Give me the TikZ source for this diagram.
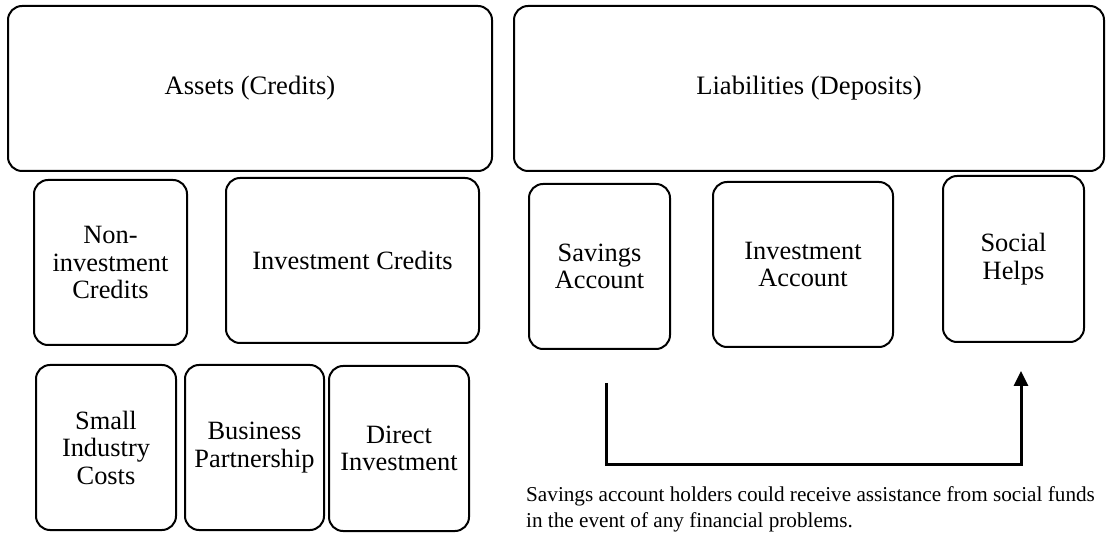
\documentclass[tikz,border=0pt]{standalone}
\usepackage{fontspec}
\setmainfont{Liberation Serif}
\usetikzlibrary{arrows.meta}

\begin{document}
\begin{tikzpicture}[x=1pt,y=-1pt,
    box/.style={draw,line width=2pt,rounded corners=14pt,align=center,
                inner sep=2pt,minimum height=165pt},
    bigtxt/.style={font=\fontsize{26.6}{30}\selectfont},
    boxtxt/.style={font=\fontsize{26.4}{27.5}\selectfont}]
\useasboundingbox (0,0) rectangle (1106,534);

% top row
\node[box,bigtxt,minimum width=484pt] (assets) at (250,88.5) {Assets (Credits)};
\node[box,bigtxt,minimum width=590pt] (liab) at (809,88.5) {Liabilities (Deposits)};

% credits
\node[box,boxtxt,minimum width=153pt] (noninv) at (110.5,262.5) {Non-\\investment\\Credits};
\node[box,boxtxt,minimum width=253pt] (invcred) at (352.5,260.5) {Investment Credits};
\node[box,boxtxt,minimum width=140pt] (small) at (106,447.5) {Small\\Industry\\Costs};
\node[box,boxtxt,minimum width=139pt] (business) at (254.5,447.5) {Business\\Partnership};
\node[box,boxtxt,minimum width=140pt] (direct) at (399,448.5) {Direct\\Investment};

% deposits
\node[box,boxtxt,minimum width=141pt] (savings) at (599.5,266.5) {Savings\\Account};
\node[box,boxtxt,minimum width=180pt] (invacc) at (803,264.5) {Investment\\Account};
\node[box,boxtxt,minimum width=141pt,minimum height=166pt] (social) at (1013.5,259) {Social\\Helps};

% savings -> social helps
\draw[line width=3pt,-{Triangle[length=15pt,width=14pt]}]
  ([xshift=6.5pt,yshift=-33pt]savings.south) -- ++(0,81)
  -| ([xshift=7.5pt,yshift=-28pt]social.south);

% note under the arrow
\node[anchor=north west,align=left,inner sep=0pt,
      font=\fontsize{21.2}{26.7}\selectfont] (note) at (526,486)
  {Savings account holders could receive assistance from social funds\\
   in the event of any financial problems.};
\end{tikzpicture}
\end{document}
